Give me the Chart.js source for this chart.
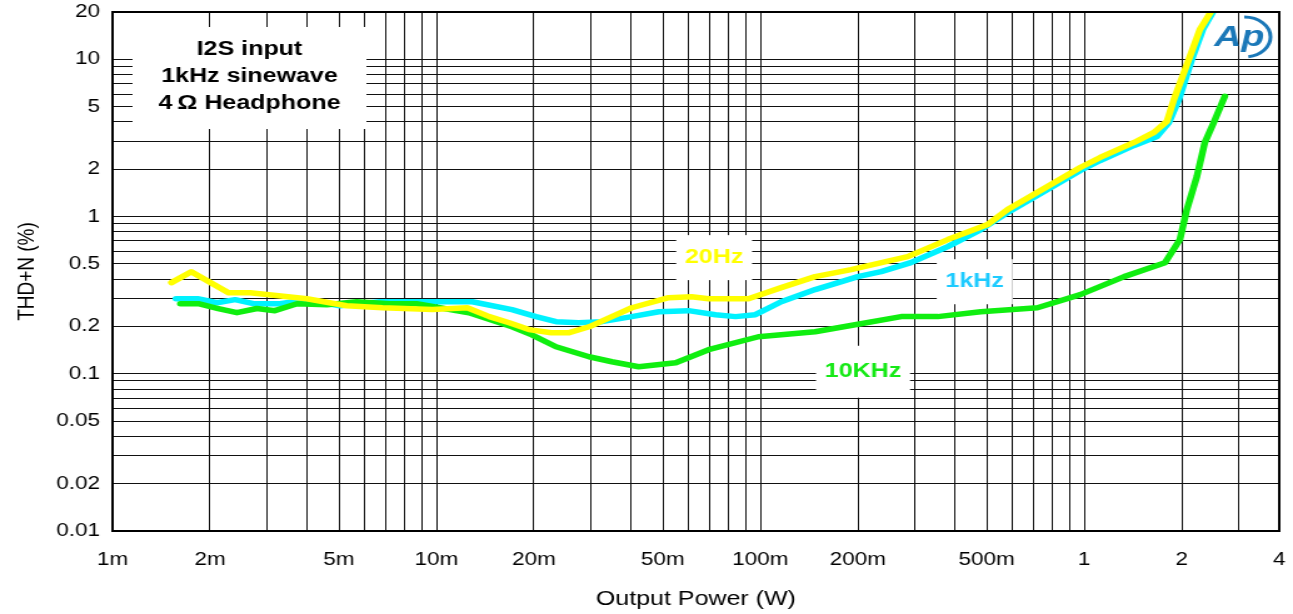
<!DOCTYPE html>
<html>
<head>
<meta charset="utf-8">
<title>THD+N vs Output Power</title>
<script src="https://cdn.jsdelivr.net/npm/chart.js@4.4.1/dist/chart.umd.min.js"></script>
<style>
  html, body { margin: 0; padding: 0; background: #fff; overflow: hidden; }
</style>
</head>
<body>
<!-- the original plot is a stretched bitmap, so the canvas is drawn narrow and widened by an inline style -->
<canvas id="thdChart" width="1034" height="614" style="display:block;width:1293px;height:614px;"></canvas>
<script>
//Output power (W) and THD+N (%)
const power20Hz = [0.00152, 0.00175, 0.00228, 0.00266, 0.00398, 0.00528, 0.00682, 0.00972, 0.01245, 0.01456, 0.01677, 0.0193, 0.0226, 0.0257, 0.0296, 0.0348, 0.0401, 0.0521, 0.0613, 0.0692, 0.0919, 0.116, 0.1476, 0.1905, 0.285, 0.379, 0.503, 0.580, 0.770, 0.972, 1.120, 1.425, 1.642, 1.800, 1.892, 2.104, 2.275, 2.459];
const thd20Hz = [0.380, 0.446, 0.328, 0.328, 0.300, 0.271, 0.263, 0.256, 0.263, 0.231, 0.211, 0.191, 0.1825, 0.1825, 0.199, 0.231, 0.263, 0.305, 0.309, 0.300, 0.300, 0.353, 0.415, 0.460, 0.556, 0.714, 0.889, 1.108, 1.553, 2.051, 2.376, 2.96, 3.43, 4.03, 5.56, 10.0, 15.5, 20];

const power1kHz = [0.00157, 0.00183, 0.0021, 0.00239, 0.00272, 0.00329, 0.00398, 0.00503, 0.00668, 0.00972, 0.0129, 0.0171, 0.0203, 0.0234, 0.0275, 0.0324, 0.0401, 0.0486, 0.060, 0.0727, 0.0838, 0.0965, 0.116, 0.1476, 0.174, 0.200, 0.236, 0.2915, 0.379, 0.479, 0.580, 0.770, 0.972, 1.120, 1.425, 1.677, 1.826, 1.960, 2.149, 2.324, 2.494];
const thd1kHz = [0.300, 0.300, 0.283, 0.296, 0.279, 0.279, 0.296, 0.271, 0.287, 0.287, 0.287, 0.256, 0.231, 0.2145, 0.211, 0.2145, 0.231, 0.248, 0.252, 0.2376, 0.231, 0.2376, 0.287, 0.343, 0.380, 0.415, 0.446, 0.509, 0.644, 0.826, 1.06, 1.486, 1.963, 2.273, 2.833, 3.233, 3.97, 5.56, 10.0, 15.5, 20];

const power10kHz = [0.00162, 0.00184, 0.00212, 0.00242, 0.00279, 0.00317, 0.00371, 0.00459, 0.00567, 0.00717, 0.00868, 0.0126, 0.0171, 0.0197, 0.0234, 0.0296, 0.0348, 0.0421, 0.0548, 0.0692, 0.0986, 0.1476, 0.196, 0.272, 0.353, 0.479, 0.717, 0.972, 1.328, 1.775, 1.974, 2.074, 2.227, 2.357, 2.512, 2.716];
const thd10kHz = [0.279, 0.279, 0.260, 0.2446, 0.260, 0.252, 0.279, 0.275, 0.287, 0.279, 0.279, 0.2446, 0.199, 0.177, 0.1486, 0.1283, 0.1193, 0.1108, 0.1175, 0.1422, 0.172, 0.185, 0.205, 0.231, 0.231, 0.248, 0.263, 0.3186, 0.415, 0.509, 0.714, 1.108, 1.798, 2.96, 3.97, 5.81];

//Tick labels
const xTicks = [0.001, 0.002, 0.005, 0.01, 0.02, 0.05, 0.1, 0.2, 0.5, 1, 2, 4];
const xTickLabels = ['1m', '2m', '5m', '10m', '20m', '50m', '100m', '200m', '500m', '1', '2', '4'];
const yTicks = [0.01, 0.02, 0.05, 0.1, 0.2, 0.5, 1, 2, 5, 10, 20];
const yTickLabels = ['0.01', '0.02', '0.05', '0.1', '0.2', '0.5', '1', '2', '5', '10', '20'];

//Texts printed on the graph
const infoLines = ['I2S input', '1kHz sinewave', '4\u2009\u03A9 Headphone'];
const curveNames = ['20Hz', '1kHz', '10KHz'];
const curveNameAt = [[0.072, 0.548], [0.459, 0.385], [0.2075, 0.103]];  //where each name sits (W, %)
const curveNameColors = ['#ffff00', '#1ecbff', '#16e916'];

const FONT = '"Liberation Sans", Arial, Helvetica, sans-serif';

//gridlines at 1..9 of every decade
function decadeGrid(min, max) {
  const out = [];
  for (let e = Math.floor(Math.log10(min)); e <= Math.ceil(Math.log10(max)); e++) {
    for (let m = 1; m <= 9; m++) {
      const v = m * Math.pow(10, e);
      if (v >= min * 0.999 && v <= max * 1.001) out.push(v);
    }
  }
  return out;
}

function labelFor(value, ticks, labels) {
  const i = ticks.findIndex(t => Math.abs(Math.log10(t) - Math.log10(value)) < 1e-6);
  return i >= 0 ? labels[i] : '';
}

function toPoints(xs, ys) {
  return xs.map((x, i) => ({ x: x, y: ys[i] }));
}

//white boxes with the notes, frame and the Ap mark
const notesPlugin = {
  id: 'notes',
  beforeDatasetsDraw(chart) {
    const ctx = chart.ctx;
    const xs = chart.scales.x;
    const ys = chart.scales.y;
    ctx.save();
    ctx.fillStyle = '#fff';
    ctx.fillRect(106, 27, 187, 102);
    ctx.font = 'bold 20px ' + FONT;
    curveNames.forEach((name, i) => {
      const px = xs.getPixelForValue(curveNameAt[i][0]);
      const py = ys.getPixelForValue(curveNameAt[i][1]);
      const w = ctx.measureText(name).width + 14;
      const h = i === 2 ? 52 : 45;
      ctx.fillRect(px - w / 2, py - h / 2, w, h);
    });
    ctx.restore();
  },
  afterDraw(chart) {
    const ctx = chart.ctx;
    const area = chart.chartArea;
    const xs = chart.scales.x;
    const ys = chart.scales.y;
    ctx.save();
    ctx.strokeStyle = '#000';
    ctx.lineWidth = 2;
    ctx.strokeRect(area.left, area.top, area.right - area.left, area.bottom - area.top);

    ctx.textAlign = 'center';
    ctx.textBaseline = 'middle';
    ctx.font = 'bold 20px ' + FONT;
    ctx.fillStyle = '#000';
    infoLines.forEach((t, i) => ctx.fillText(t, 199.5, 49 + i * 27));

    curveNames.forEach((name, i) => {
      ctx.fillStyle = curveNameColors[i];
      ctx.fillText(name, xs.getPixelForValue(curveNameAt[i][0]), ys.getPixelForValue(curveNameAt[i][1]));
    });

    //Ap logo
    const lx = area.right - 30;
    const ly = area.top + 25;
    ctx.fillStyle = '#1b78b8';
    ctx.strokeStyle = '#1b78b8';
    ctx.font = 'italic bold 30px ' + FONT;
    ctx.fillText('Ap', lx - 2, ly + 1);
    ctx.lineWidth = 3;
    ctx.beginPath();
    ctx.ellipse(lx + 2, ly, 21, 20, 0, -Math.PI * 0.5, Math.PI * 0.45);
    ctx.stroke();
    ctx.restore();
  }
};

document.addEventListener('DOMContentLoaded', function () {
  const xGrid = decadeGrid(0.001, 4);
  const yGrid = decadeGrid(0.01, 20);

  const ctx = document.getElementById('thdChart');
  new Chart(ctx, {
    type: 'scatter',
    data: {
      datasets: [
        {
          label: '20Hz',
          data: toPoints(power20Hz, thd20Hz),
          borderColor: '#ffff00',
        },
        {
          label: '10KHz',
          data: toPoints(power10kHz, thd10kHz),
          borderColor: '#10ee10',
        },
        {
          label: '1kHz',
          data: toPoints(power1kHz, thd1kHz),
          borderColor: '#00f2ff',
        }
      ]
    },
    options: {
      responsive: false,
      devicePixelRatio: 1,
      animation: false,
      showLine: true,
      elements: {
        point: { radius: 0, hoverRadius: 0 },
        line: { borderWidth: 5.5, tension: 0, borderCapStyle: 'round', borderJoinStyle: 'round' }
      },
      layout: {
        padding: { left: 0, right: 11, top: 12, bottom: 0 }
      },
      plugins: {
        legend: { display: false },
        tooltip: { enabled: false }
      },
      scales: {
        x: {
          type: 'logarithmic',
          min: 0.001,
          max: 4,
          afterFit: function (scale) {
            scale.height = 83;
            scale.paddingLeft = 0;  //keep the label padding from shrinking the plot
            scale.paddingRight = 0;
          },
          afterBuildTicks: function (scale) { scale.ticks = xGrid.map(v => ({ value: v })); },
          grid: { color: '#111', lineWidth: 1, drawTicks: false },
          border: { color: '#000', width: 2 },
          ticks: {
            autoSkip: false,
            maxRotation: 0,
            padding: 18,
            color: '#000',
            font: { family: FONT, size: 18 },
            callback: function (value) { return labelFor(value, xTicks, xTickLabels); }
          },
          title: {
            display: true,
            text: 'Output Power (W)',
            color: '#000',
            font: { family: FONT, size: 20 },
            padding: { top: 0, bottom: 3 }
          }
        },
        y: {
          type: 'logarithmic',
          min: 0.01,
          max: 20,
          afterFit: function (scale) {
            scale.width = 90;
            scale.paddingTop = 0;
            scale.paddingBottom = 0;
          },
          afterBuildTicks: function (scale) { scale.ticks = yGrid.map(v => ({ value: v })); },
          grid: { color: '#111', lineWidth: 1, drawTicks: false },
          border: { color: '#000', width: 2 },
          ticks: {
            autoSkip: false,
            padding: 10,
            color: '#000',
            font: { family: FONT, size: 18 },
            callback: function (value) { return labelFor(value, yTicks, yTickLabels); }
          },
          title: {
            display: true,
            text: 'THD+N (%)',
            color: '#000',
            font: { family: FONT, size: 19 },
            padding: { top: 10, bottom: 0 }
          }
        }
      }
    },
    plugins: [notesPlugin]
  });
});
</script>
</body>
</html>
